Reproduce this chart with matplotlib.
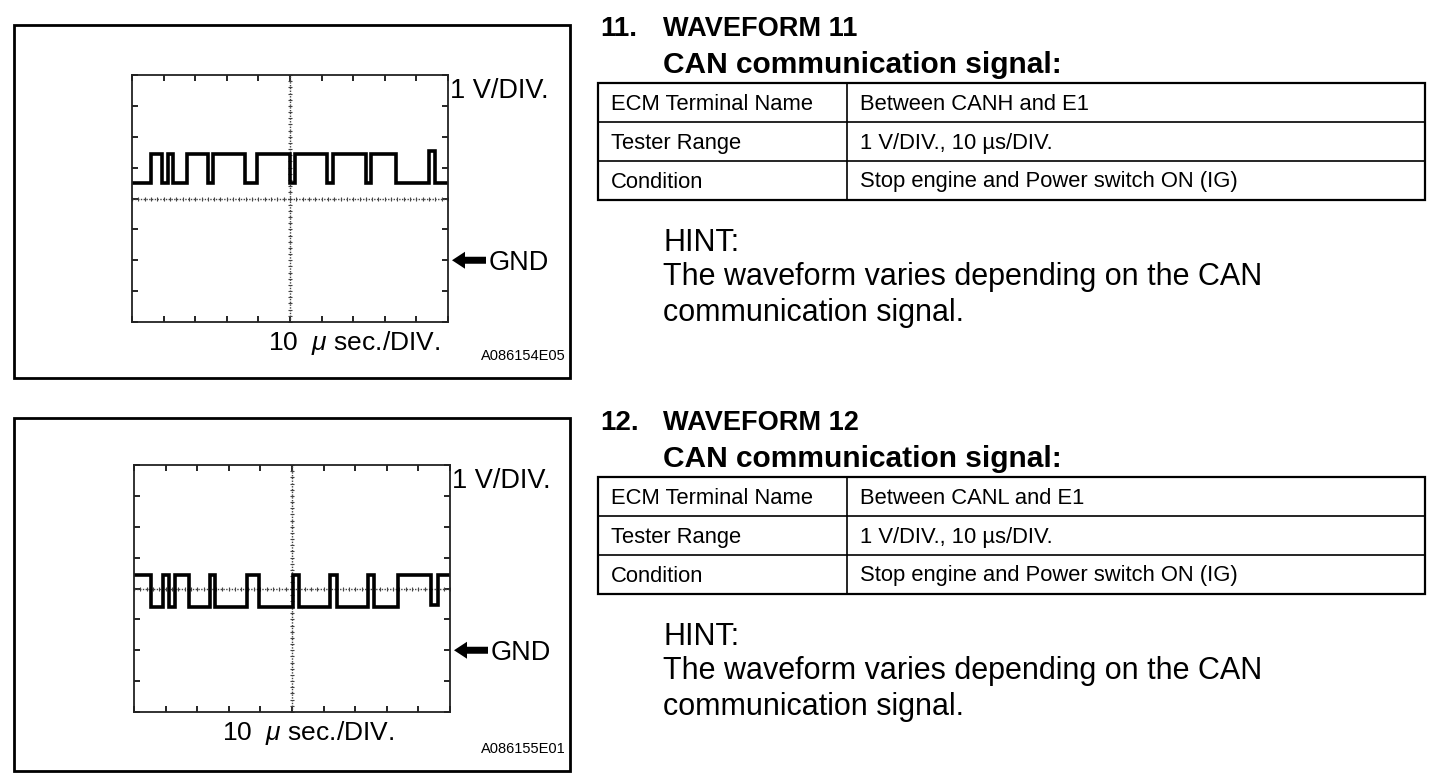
import numpy as np
import matplotlib
matplotlib.use("Agg")
import matplotlib.pyplot as plt
from matplotlib.patches import Rectangle, FancyArrow

plt.rcParams['font.family'] = ['Liberation Sans', 'DejaVu Sans']
plt.rcParams['mathtext.fontset'] = 'custom'
plt.rcParams['mathtext.rm'] = 'Liberation Sans'
plt.rcParams['mathtext.it'] = 'Liberation Sans:italic'

W, H = 1456, 782

# ---------------- data ----------------
# Waveform 11 (CANH - E1): time in microseconds, level in volts (step, post)
wf11_t = [0, 5.9, 9.5, 11.5, 12.9, 17.4, 24.1, 25.7, 35.8, 39.4, 50.1, 51.6,
          61.8, 63.5, 74.2, 75.7, 83.7, 94.0, 96.0, 100]
wf11_v = [2.5, 3.45, 2.5, 3.45, 2.5, 3.45, 2.5, 3.45, 2.5, 3.45, 2.5, 3.45,
          2.5, 3.45, 2.5, 3.45, 2.5, 3.55, 2.5, 2.5]
# Waveform 12 (CANL - E1)
wf12_t = [0, 5.3, 9.2, 11.1, 12.9, 17.4, 24.0, 25.7, 35.8, 39.5, 50.3, 52.2,
          62.1, 64.3, 74.0, 76.1, 83.7, 94.0, 96.2, 100]
wf12_v = [2.45, 1.4, 2.45, 1.4, 2.45, 1.4, 2.45, 1.4, 2.45, 1.4, 2.45, 1.4,
          2.45, 1.4, 2.45, 1.4, 2.45, 1.45, 2.45, 2.45]

time_range_us = (0, 100)    # 10 div x 10 us
volt_range = (-2, 6)        # 8 div x 1 V, GND two divisions above bottom
center_v = 2
center_t = 50

titles = ["WAVEFORM 11", "WAVEFORM 12"]
numbers = ["11.", "12."]
subtitle = "CAN communication signal:"
row_labels = ["ECM Terminal Name", "Tester Range", "Condition"]
row_values_11 = ["Between CANH and E1", "1 V/DIV., 10 \u00b5s/DIV.",
                 "Stop engine and Power switch ON (IG)"]
row_values_12 = ["Between CANL and E1", "1 V/DIV., 10 \u00b5s/DIV.",
                 "Stop engine and Power switch ON (IG)"]
hint_lines = ["HINT:", "The waveform varies depending on the CAN",
              "communication signal."]
codes = ["A086154E05", "A086155E01"]

# ---------------- figure ----------------
fig = plt.figure(figsize=(W / 100, H / 100), dpi=100)
ax0 = fig.add_axes([0, 0, 1, 1])
ax0.set_xlim(0, W)
ax0.set_ylim(H, 0)
ax0.axis('off')


def scope(left, top, right, bottom, t, v):
    ax = fig.add_axes([left / W, 1 - bottom / H, (right - left) / W, (bottom - top) / H])
    ax.set_xlim(*time_range_us)
    ax.set_ylim(*volt_range)
    ax.set_xticks(np.arange(time_range_us[0], time_range_us[1] + 1, 10))
    ax.set_yticks(np.arange(volt_range[0], volt_range[1] + 1, 1))
    ax.tick_params(direction='in', length=4, width=1.2, top=True, right=True,
                   labelbottom=False, labelleft=False, color='black')
    for s in ax.spines.values():
        s.set_linewidth(1.3)
        s.set_color('#222222')
    ax.axvline(center_t, color='#444444', lw=1.0, ls=(0, (1, 1)))
    ax.axhline(center_v, color='#444444', lw=1.0, ls=(0, (1, 1)))
    mt = np.arange(time_range_us[0], time_range_us[1] + 0.01, 2)
    ax.plot(mt, np.full_like(mt, center_v, dtype=float), ls='none', marker='|',
            ms=3.5, mew=0.8, color='#444444')
    mv = np.arange(volt_range[0], volt_range[1] + 0.01, 0.2)
    ax.plot(np.full_like(mv, center_t, dtype=float), mv, ls='none', marker='_',
            ms=3.5, mew=0.8, color='#444444')
    ax.step(t, v, where='post', color='black', lw=2.6, solid_joinstyle='miter')
    ax.set_facecolor('none')
    return ax


def panel(dy, scope_box, t, v, sec_x, code, number, title, values):
    # outer frame
    ax0.add_patch(Rectangle((14, 25 + dy), 556, 353, fill=False, lw=2, ec='black'))
    l, tp, r, b = scope_box
    scope(l, tp, r, b, t, v)
    ax0.text(r + 2, tp + 23, "1 V/DIV.", fontsize=19.5, va='baseline', ha='left')
    gy = tp + (volt_range[1] - 0) / (volt_range[1] - volt_range[0]) * (b - tp)
    ax0.add_patch(FancyArrow(r + 38, gy, -34, 0, width=7, head_width=17,
                             head_length=13, length_includes_head=True,
                             color='black', lw=0))
    ax0.text(r + 41, gy + 10, "GND", fontsize=19.5, va='baseline', ha='left')
    ax0.text(sec_x, b + 28, r"10  $\mu$ sec./DIV.", fontsize=19, va='baseline', ha='left')
    ax0.text(566, 360 + dy, code, fontsize=10.5, va='baseline', ha='right')

    # right-hand text
    ry = dy + (1 if dy else 0)
    ax0.text(600, 36 + ry, number, fontsize=20, fontweight='bold', va='baseline')
    ax0.text(663, 36 + ry, title, fontsize=19.5, fontweight='bold', va='baseline')
    ax0.text(663, 73 + ry, subtitle, fontsize=21.5, fontweight='bold', va='baseline')
    top = 83 + ry
    rh = 39
    ax0.add_patch(Rectangle((598, top), 827, 3 * rh, fill=False, lw=1.6, ec='black'))
    for i in range(1, 3):
        ax0.plot([598, 1425], [top + i * rh, top + i * rh], color='black', lw=1.2)
    ax0.plot([847, 847], [top, top + 3 * rh], color='black', lw=1.2)
    for i, (lab, val) in enumerate(zip(row_labels, values)):
        ax0.text(611, top + i * rh + 26.5, lab, fontsize=15.8, va='baseline')
        ax0.text(860, top + i * rh + 26.5, val, fontsize=15.8, va='baseline')
    for j, line in enumerate(hint_lines):
        ax0.text(663, 251 + ry + [0, 34, 70][j], line, fontsize=22, va='baseline')


panel(0, (132, 75, 448, 322), wf11_t, wf11_v, 268, codes[0], numbers[0], titles[0], row_values_11)
panel(393, (134, 465, 450, 712), wf12_t, wf12_v, 222, codes[1], numbers[1], titles[1], row_values_12)

fig.savefig("out.png", dpi=100, facecolor='white')
